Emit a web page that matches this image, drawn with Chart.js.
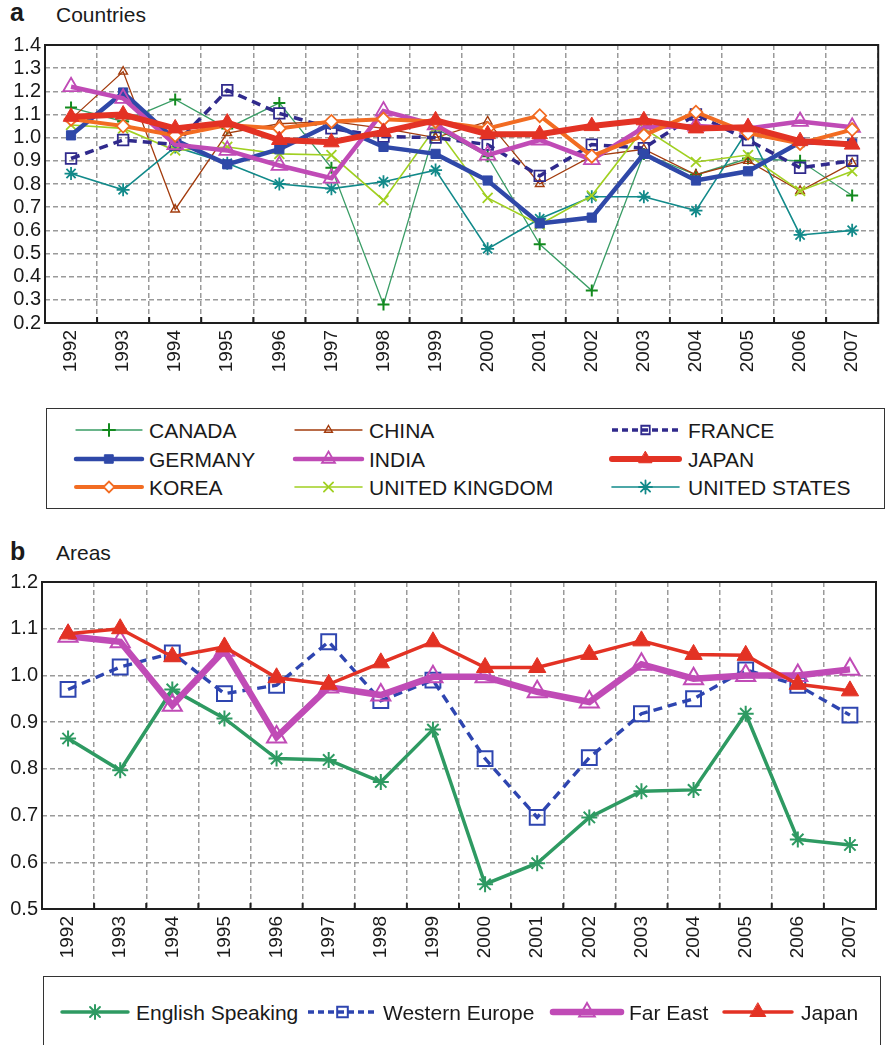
<!DOCTYPE html>
<html><head><meta charset="utf-8">
<script src="https://cdn.jsdelivr.net/npm/chart.js@4/dist/chart.umd.min.js"></script>
<style>
html,body{margin:0;padding:0;background:#fff;}
body{width:889px;height:1045px;position:relative;overflow:hidden;font-family:"Liberation Sans",Arial,Helvetica,sans-serif;color:#1a1a1a;}
canvas{position:absolute;left:0;}
.t{position:absolute;white-space:nowrap;color:#1a1a1a;}
.box{position:absolute;border:1.5px solid #333;box-sizing:border-box;}
.lt{position:absolute;font-size:21px;line-height:21px;white-space:nowrap;color:#1a1a1a;}
</style></head><body>
<div class="t" style="left:10px;top:0px;font-size:25px;line-height:25px;font-weight:bold;">a</div>
<div class="t" style="left:56px;top:4px;font-size:21px;line-height:21px;">Countries</div>
<div class="t" style="left:10px;top:539px;font-size:25px;line-height:25px;font-weight:bold;">b</div>
<div class="t" style="left:56px;top:542px;font-size:21px;line-height:21px;">Areas</div>
<canvas id="ca" width="889" height="395" style="top:0;"></canvas>
<canvas id="cb" width="889" height="445" style="top:530px;"></canvas>
<div class="box" style="left:46px;top:408px;width:839px;height:101px;"></div>
<div class="box" style="left:43px;top:976px;width:838px;height:90px;"></div>
<canvas id="lg" width="889" height="1045" style="top:0;z-index:2;"></canvas>
<div id="legendText"></div>
<script>
// ---------------- DATA ----------------
const years = ['1992','1993','1994','1995','1996','1997','1998','1999','2000','2001','2002','2003','2004','2005','2006','2007'];

// Panel a: Countries
const canada  = [1.13, 1.07, 1.165, 1.04, 1.15, 0.87, 0.28, 1.04, 0.92, 0.54, 0.34, 0.93, 0.84, 0.91, 0.90, 0.75];
const china   = [1.08, 1.285, 0.69, 1.02, 1.06, 1.07, 1.04, 1.00, 1.07, 0.80, 0.92, 0.95, 0.84, 0.90, 0.77, 0.89];
const france  = [0.91, 0.99, 0.97, 1.205, 1.105, 1.04, 1.005, 1.00, 0.97, 0.835, 0.97, 0.955, 1.10, 0.99, 0.87, 0.90];
const germany = [1.01, 1.195, 0.99, 0.885, 0.95, 1.06, 0.96, 0.93, 0.815, 0.63, 0.655, 0.93, 0.815, 0.855, 0.98, 0.975];
const india   = [1.22, 1.17, 0.97, 0.945, 0.88, 0.825, 1.115, 1.055, 0.925, 0.99, 0.905, 1.045, 1.05, 1.04, 1.07, 1.045];
const japanA  = [1.09, 1.10, 1.04, 1.065, 0.99, 0.98, 1.025, 1.075, 1.015, 1.015, 1.05, 1.075, 1.04, 1.045, 0.985, 0.97];
const korea   = [1.08, 1.05, 1.01, 1.055, 1.04, 1.07, 1.08, 1.07, 1.04, 1.095, 0.92, 1.01, 1.11, 1.02, 0.975, 1.035];
const uk      = [1.055, 1.04, 0.945, 0.96, 0.93, 0.925, 0.73, 1.045, 0.74, 0.625, 0.75, 1.04, 0.895, 0.925, 0.77, 0.855];
const us      = [0.845, 0.775, 0.96, 0.89, 0.80, 0.78, 0.81, 0.86, 0.52, 0.65, 0.745, 0.745, 0.685, 1.035, 0.58, 0.60];

// Panel b: Areas
const englishSpeaking = [0.865, 0.797, 0.970, 0.908, 0.822, 0.819, 0.772, 0.884, 0.553, 0.598, 0.696, 0.752, 0.755, 0.918, 0.649, 0.637];
const westernEurope   = [0.970, 1.018, 1.048, 0.961, 0.979, 1.072, 0.946, 0.990, 0.822, 0.696, 0.824, 0.918, 0.950, 1.012, 0.979, 0.915];
const farEast         = [1.084, 1.072, 0.936, 1.054, 0.868, 0.975, 0.958, 0.997, 0.997, 0.965, 0.943, 1.024, 0.993, 1.000, 1.000, 1.013];
const japanB          = [1.089, 1.100, 1.040, 1.061, 0.995, 0.981, 1.027, 1.072, 1.017, 1.017, 1.045, 1.074, 1.045, 1.043, 0.981, 0.967];

const yTicksA = {min: 0.2, max: 1.4, step: 0.1};
const yTicksB = {min: 0.5, max: 1.2, step: 0.1};

// ---------------- STYLES ----------------
const FONT = '"Liberation Sans", Arial, Helvetica, sans-serif';
const T = 'rgba(0,0,0,0)';
const styles = {
  CANADA:  {color:'#3a9d66', lw:1.3, ps:'cross',    r:6,   mc:'#138a1e', bg:T,         bw:2,   order:8, lr:6},
  CHINA:   {color:'#a33c0e', lw:1.3, ps:'triangle', r:5,   mc:'#a33c0e', bg:T,         bw:1.4, order:7, lr:4.5},
  FRANCE:  {color:'#302a8c', lw:3.5, ps:'rect',     r:7.5, mc:'#302a8c', bg:T,         bw:1.8, order:4, lr:6, dash:[9,6]},
  GERMANY: {color:'#2f48a8', lw:4.5, ps:'rect',     r:6.5, mc:'#2f48a8', bg:'#2f48a8', bw:1,   order:3, lr:6},
  INDIA:   {color:'#c04bb6', lw:4.5, ps:'triangle', r:9,   mc:'#c04bb6', bg:T,         bw:1.8, order:2, lr:7.5},
  JAPAN:   {color:'#e33224', lw:6,   ps:'triangle', r:9,   mc:'#e33224', bg:'#e33224', bw:1,   order:0, lr:7.5},
  KOREA:   {color:'#f26c22', lw:4,   ps:'rectRot',  r:6.5, mc:'#f26c22', bg:'#ffffff', bw:1.8, order:1, lr:5.5},
  'UNITED KINGDOM': {color:'#a1d022', lw:1.6, ps:'crossRot', r:7, mc:'#a1d022', bg:T, bw:1.8, order:5, lr:6.5},
  'UNITED STATES':  {color:'#128a8a', lw:1.6, ps:'star',     r:6.5, mc:'#128a8a', bg:T, bw:1.8, order:6, lr:6.5}
};
const stylesB = {
  'English Speaking': {color:'#2e9a62', lw:3.5, ps:'star',     r:8,    mc:'#2e9a62', bg:T, bw:2, order:3, lr:7},
  'Western Europe':   {color:'#2e45b0', lw:3.4, ps:'rect',     r:10.5, mc:'#2e45b0', bg:T, bw:2, order:2, lr:7.5, dash:[9,6]},
  'Far East':         {color:'#c04bb6', lw:6.5, ps:'triangle', r:11,   mc:'#c04bb6', bg:T, bw:2, order:1, lr:9},
  'Japan':            {color:'#e33224', lw:3.5, ps:'triangle', r:10,   mc:'#e33224', bg:'#e33224', bw:1, order:0, lr:9}
};

function ds(label, data, s){
  return {label, data, borderColor:s.color, borderWidth:s.lw, borderDash:s.dash||[],
    pointStyle:s.ps, pointRadius:s.r, pointHoverRadius:s.r, pointBorderColor:s.mc,
    pointBackgroundColor:s.bg, pointBorderWidth:s.bw, tension:0, fill:false, order:s.order};
}

const frame = {
  id:'frame',
  beforeDatasetsDraw(chart){
    const {ctx, chartArea:a, scales:{x}} = chart;
    ctx.save();
    ctx.strokeStyle = '#1e1e1e';
    ctx.lineWidth = 2;
    ctx.strokeRect(a.left, a.top, a.right - a.left, a.bottom - a.top);
    const n = chart.data.labels.length;
    for (let i = 1; i < n; i++){
      const px = (x.getPixelForValue(i-1) + x.getPixelForValue(i)) / 2;
      ctx.beginPath(); ctx.moveTo(px, a.bottom); ctx.lineTo(px, a.bottom - 6); ctx.stroke();
    }
    ctx.restore();
  }
};

function makeScales(yt, yWidth, xHeight){
  return {
    x: {type:'category', offset:true,
        grid:{offset:true, color:'#9a9a9a', lineWidth:1.5, drawTicks:false},
        border:{display:false, dash:[5,3]},
        ticks:{autoSkip:false, minRotation:90, maxRotation:90, padding:7, color:'#1a1a1a', font:{size:19, family:FONT}},
        afterFit(s){ s.height = xHeight; }},
    y: {min:yt.min, max:yt.max,
        grid:{color:'#9a9a9a', lineWidth:1.5, drawTicks:false},
        border:{display:false, dash:[5,3]},
        ticks:{stepSize:yt.step, autoSkip:false, padding:4, color:'#1a1a1a', font:{size:20, family:FONT}, callback:v=>Number(v).toFixed(1)},
        afterFit(s){ s.width = yWidth; }}
  };
}

const commonOpts = (yt, yW, xH, pad) => ({
  responsive:false, animation:false, devicePixelRatio:1,
  layout:{padding:pad},
  plugins:{legend:{display:false}, tooltip:{enabled:false}},
  scales: makeScales(yt, yW, xH)
});

new Chart(document.getElementById('ca'), {
  type:'line',
  data:{labels:years, datasets:[
    ds('CANADA', canada, styles.CANADA),
    ds('CHINA', china, styles.CHINA),
    ds('FRANCE', france, styles.FRANCE),
    ds('GERMANY', germany, styles.GERMANY),
    ds('INDIA', india, styles.INDIA),
    ds('JAPAN', japanA, styles.JAPAN),
    ds('KOREA', korea, styles.KOREA),
    ds('UNITED KINGDOM', uk, styles['UNITED KINGDOM']),
    ds('UNITED STATES', us, styles['UNITED STATES'])
  ]},
  options: commonOpts(yTicksA, 45, 72, {top:45, left:0, right:1, bottom:0}),
  plugins:[frame]
});

new Chart(document.getElementById('cb'), {
  type:'line',
  data:{labels:years, datasets:[
    ds('English Speaking', englishSpeaking, stylesB['English Speaking']),
    ds('Western Europe', westernEurope, stylesB['Western Europe']),
    ds('Far East', farEast, stylesB['Far East']),
    ds('Japan', japanB, stylesB['Japan'])
  ]},
  options: commonOpts(yTicksB, 42, 66, {top:52, left:0, right:1, bottom:0}),
  plugins:[frame]
});

// ---------------- LEGENDS ----------------
const legendA = [
  ['CANADA', 76, 142, 149, 430], ['CHINA', 295, 362, 369, 430], ['FRANCE', 612, 679, 688, 430],
  ['GERMANY', 76, 142, 149, 459], ['INDIA', 295, 362, 369, 459], ['JAPAN', 612, 679, 688, 459],
  ['KOREA', 76, 142, 149, 487], ['UNITED KINGDOM', 295, 362, 369, 487], ['UNITED STATES', 612, 679, 688, 487]
];
const legendB = [
  ['English Speaking', 62, 128, 136, 1012], ['Western Europe', 308, 377, 383, 1012],
  ['Far East', 553, 621, 629, 1012], ['Japan', 724, 792, 801, 1012]
];
const lg = document.getElementById('lg').getContext('2d');
const lt = document.getElementById('legendText');
function legendItem(item, s){
  const [label, x0, x1, tx, y] = item;
  lg.save();
  lg.strokeStyle = s.color; lg.lineWidth = s.lw; lg.lineCap = s.dash ? 'butt' : 'round';
  lg.setLineDash(s.dash ? [6,4] : []);
  lg.beginPath(); lg.moveTo(x0, y); lg.lineTo(x1, y); lg.stroke();
  lg.setLineDash([]);
  lg.fillStyle = s.bg; lg.strokeStyle = s.mc; lg.lineWidth = s.bw;
  Chart.helpers.drawPoint(lg, {pointStyle:s.ps, radius:s.lr, borderWidth:s.bw, rotation:0}, (x0+x1)/2, y);
  lg.restore();
  const d = document.createElement('div');
  d.className = 'lt'; d.textContent = label;
  d.style.left = tx + 'px'; d.style.top = (y - 10.5) + 'px';
  lt.appendChild(d);
}
legendA.forEach(it => legendItem(it, styles[it[0]]));
legendB.forEach(it => legendItem(it, stylesB[it[0]]));
</script>
</body></html>
